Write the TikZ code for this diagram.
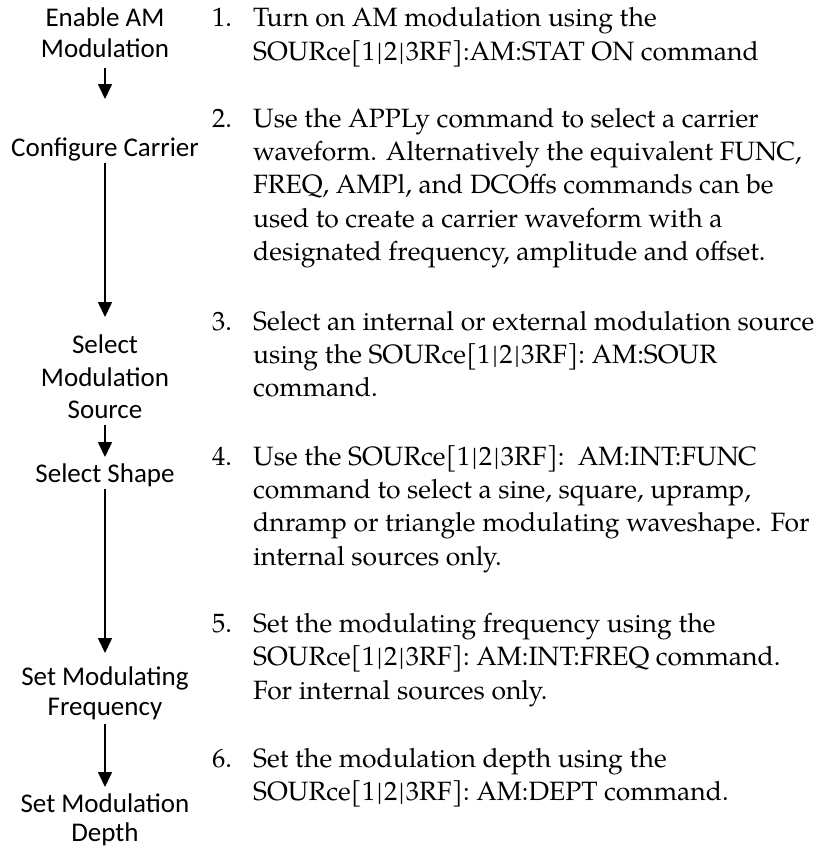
\documentclass[tikz,border=0pt]{standalone}
\usepackage{fontspec}
\usetikzlibrary{arrows.meta}
\newfontfamily\lblfont{Carlito}
\newfontfamily\palfont[Extension=.otf,UprightFont=*-regular]{texgyrepagella}
\newcommand\pipesym{\kern1.6pt|\kern1.6pt}
\tikzset{
  lbl/.style={anchor=base,inner sep=0pt,font={\lblfont\fontsize{27}{31}\selectfont}},
  num/.style={anchor=base west,inner sep=0pt,font={\palfont\fontsize{26.5}{33.3}\selectfont}},
  txt/.style={anchor=base west,inner sep=0pt,font={\palfont\fontsize{26.5}{33.3}\selectfont}},
  flow/.style={line width=1.6pt,-{Triangle[width=14pt,length=15pt]}}
}
\begin{document}
\begin{tikzpicture}[x=1pt,y=-1pt]
\useasboundingbox (0,0) rectangle (818,852);
% left labels
\node[lbl] (l1a) at (105,26.5) {Enable AM};
\node[lbl] (l1b) at (105,57.5) {Modulation};
\node[lbl] (l2) at (105,156.5) {Configure Carrier};
\node[lbl] (l3a) at (105,353) {Select};
\node[lbl] (l3b) at (105,386) {Modulation};
\node[lbl] (l3c) at (105,418) {Source};
\node[lbl] (l4) at (105,482) {Select Shape};
\node[lbl] (l5a) at (105,685) {Set Modulating};
\node[lbl] (l5b) at (105,715) {Frequency};
\node[lbl] (l6a) at (105,812) {Set Modulation};
\node[lbl] (l6b) at (105,841) {Depth};
% connectors
\coordinate (a1s) at (105,68);  \coordinate (a1e) at (105,99);
\coordinate (a2s) at (105,163); \coordinate (a2e) at (105,317);
\coordinate (a3s) at (105,425); \coordinate (a3e) at (105,457);
\coordinate (a4s) at (105,489); \coordinate (a4e) at (105,653);
\coordinate (a5s) at (105,724); \coordinate (a5e) at (105,787);
\draw[flow] (a1s) -- (a1e);
\draw[flow] (a2s) -- (a2e);
\draw[flow] (a3s) -- (a3e);
\draw[flow] (a4s) -- (a4e);
\draw[flow] (a5s) -- (a5e);
% steps
\node[num] (n1) at (212,26.5) {1.};
\node[txt] (t1a) at (253,26.5) {Turn on AM modulation using the};
\node[txt] (t1b) at (253,60) {SOURce[1\pipesym2\pipesym3RF]:AM:STAT ON command};
\node[num] (n2) at (212,127) {2.};
\node[txt] (t2a) at (253,127) {Use the APPLy command to select a carrier};
\node[txt] (t2b) at (253,160.3) {waveform. Alternatively the equivalent FUNC,};
\node[txt] (t2c) at (253,193.6) {FREQ, AMPl, and DCOffs commands can be};
\node[txt] (t2d) at (253,227) {used to create a carrier waveform with a};
\node[txt] (t2e) at (253,260.3) {designated frequency, amplitude and offset.};
\node[num] (n3) at (212,330) {3.};
\node[txt] (t3a) at (253,330) {Select an internal or external modulation source};
\node[txt] (t3b) at (253,363.3) {using the SOURce[1\pipesym2\pipesym3RF]: AM:SOUR};
\node[txt] (t3c) at (253,396.6) {command.};
\node[num] (n4) at (212,465) {4.};
\node[txt] (t4a) at (253,465) {Use the SOURce[1\pipesym2\pipesym3RF]:\ \ AM:INT:FUNC};
\node[txt] (t4b) at (253,498.3) {command to select a sine, square, upramp,};
\node[txt] (t4c) at (253,531.6) {dnramp or triangle modulating waveshape. For};
\node[txt] (t4d) at (253,565) {internal sources only.};
\node[num] (n5) at (212,632.5) {5.};
\node[txt] (t5a) at (253,632.5) {Set the modulating frequency using the};
\node[txt] (t5b) at (253,665.8) {SOURce[1\pipesym2\pipesym3RF]: AM:INT:FREQ command.};
\node[txt] (t5c) at (253,699.1) {For internal sources only.};
\node[num] (n6) at (212,767.5) {6.};
\node[txt] (t6a) at (253,767.5) {Set the modulation depth using the};
\node[txt] (t6b) at (253,800.8) {SOURce[1\pipesym2\pipesym3RF]: AM:DEPT command.};
\end{tikzpicture}
\end{document}
